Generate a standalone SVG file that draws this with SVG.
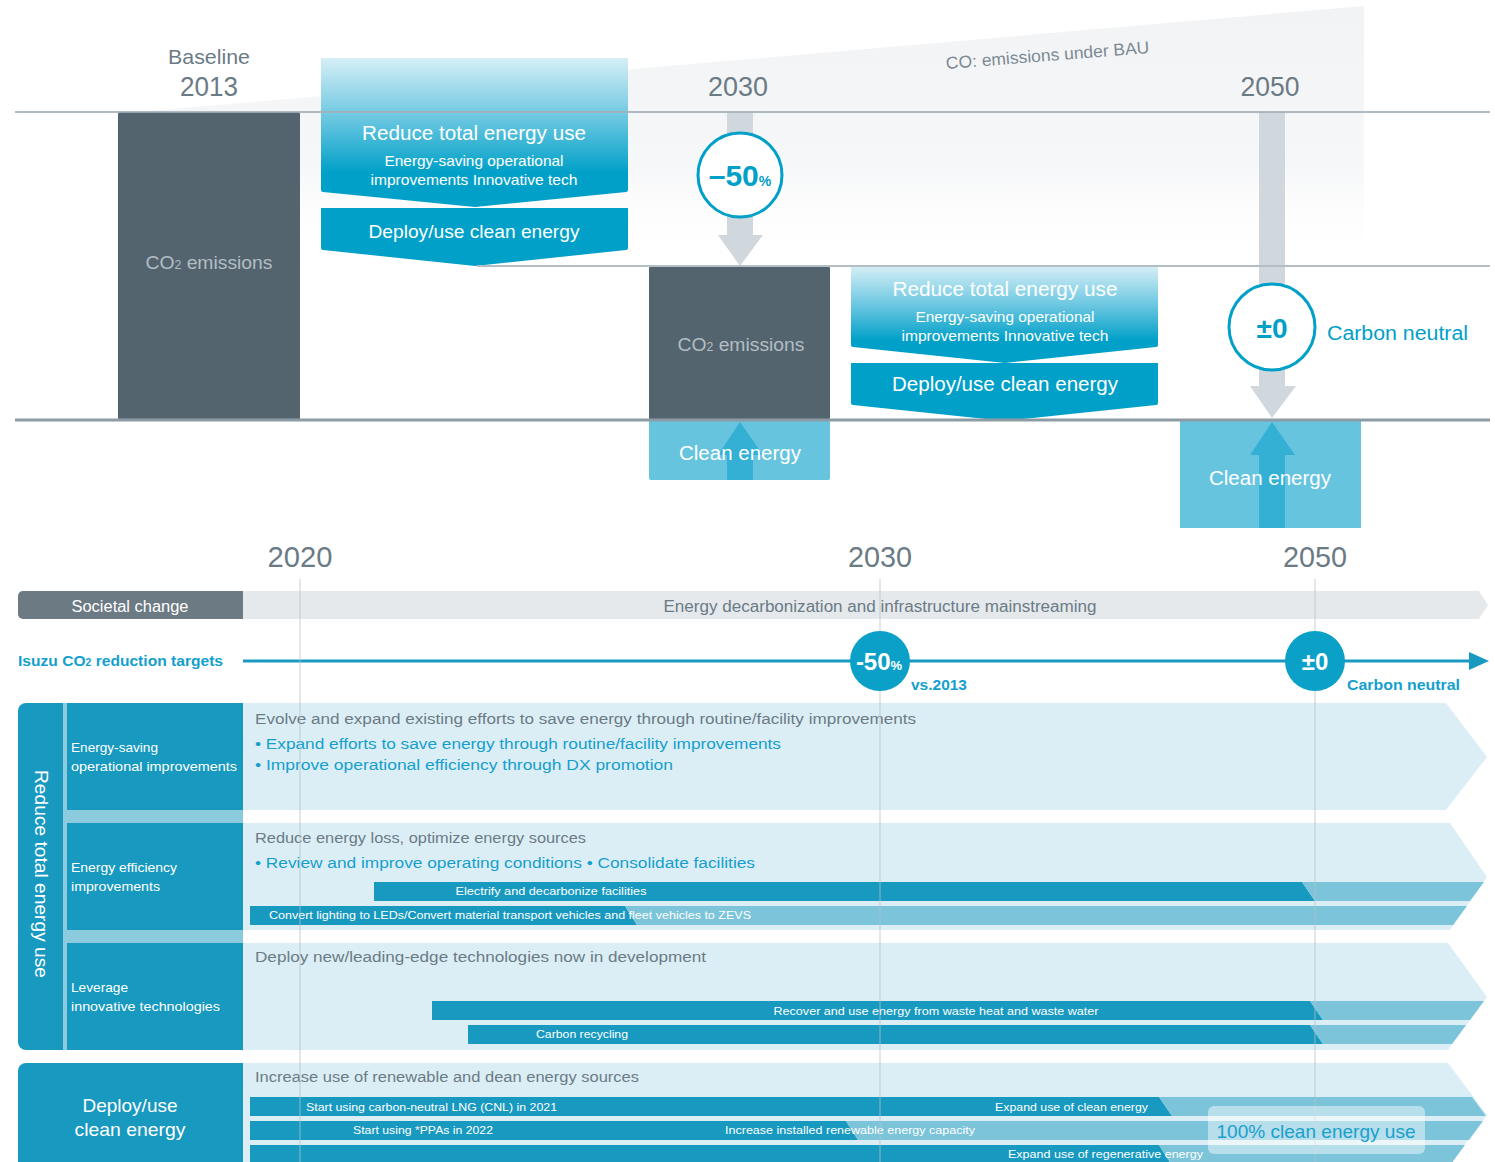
<svg xmlns="http://www.w3.org/2000/svg" width="1495" height="1162" viewBox="0 0 1495 1162">
<defs>
<style>
text{font-family:"Liberation Sans",Arial,sans-serif;}
.w{fill:#ffffff;}
.g{fill:#6b7b86;}
.b{fill:#149fce;}
.lg{fill:#b3bdc4;}
.dark{fill:#53646e;}
.blue{fill:#00a0c8;}
.head{fill:#1899c0;}
.sep{fill:#8ccadd;}
.band{fill:#dceef5;}
.bar{fill:#1899c0;}
.barl{fill:#7bc4da;}
.cyan{fill:#67c4df;}
.cyanarr{fill:#35b0d5;}
.grayarr{fill:#d0d7dd;}
.vline{stroke:#b5c1c9;stroke-width:1;opacity:0.75;}
</style>
<linearGradient id="bau" x1="0" y1="6" x2="0" y2="270" gradientUnits="userSpaceOnUse">
<stop offset="0" stop-color="#f1f3f5" stop-opacity="1"/>
<stop offset="0.6" stop-color="#f4f5f7" stop-opacity="0.8"/>
<stop offset="1" stop-color="#ffffff" stop-opacity="0"/>
</linearGradient>
<linearGradient id="blk1" x1="0" y1="58" x2="0" y2="207" gradientUnits="userSpaceOnUse">
<stop offset="0" stop-color="#d6eff6"/>
<stop offset="0.4" stop-color="#6cc7e1"/>
<stop offset="0.77" stop-color="#00a0c8"/>
<stop offset="1" stop-color="#00a0c8"/>
</linearGradient>
<linearGradient id="blk2" x1="0" y1="266" x2="0" y2="363" gradientUnits="userSpaceOnUse">
<stop offset="0" stop-color="#d6eff6"/>
<stop offset="0.4" stop-color="#6cc7e1"/>
<stop offset="0.77" stop-color="#00a0c8"/>
<stop offset="1" stop-color="#00a0c8"/>
</linearGradient>
</defs>

<!-- BAU wedge -->
<g id="bau-area">
<polygon points="137,112 1364,6 1364,270 137,270" fill="url(#bau)"/>
<text x="1048" y="61" transform="rotate(-4.5 1048 61)" text-anchor="middle" font-size="17" fill="#7d8a94" textLength="204" lengthAdjust="spacingAndGlyphs">CO: emissions under BAU</text>
</g>

<!-- top year labels -->
<g id="top-years">
<text x="209" y="64" text-anchor="middle" font-size="21" class="g" textLength="82" lengthAdjust="spacingAndGlyphs">Baseline</text>
<text x="209" y="96" text-anchor="middle" font-size="27" class="g" textLength="58" lengthAdjust="spacingAndGlyphs">2013</text>
<text x="738" y="96" text-anchor="middle" font-size="27" class="g" textLength="60" lengthAdjust="spacingAndGlyphs">2030</text>
<text x="1270" y="96" text-anchor="middle" font-size="27" class="g" textLength="59" lengthAdjust="spacingAndGlyphs">2050</text>
</g>

<!-- baseline CO2 bar -->
<g id="co2-2013">
<rect x="118" y="112" width="182" height="308" rx="2" class="dark"/>
<text x="209" y="269" text-anchor="middle" font-size="19" class="lg" textLength="127" lengthAdjust="spacingAndGlyphs">CO<tspan font-size="12">2</tspan> emissions</text>
</g>

<!-- first action blocks -->
<g id="reduce-1">
<path d="M321,58 H628 V190 Q628,192 626,192 L475,207 L323,192 Q321,192 321,190 Z" fill="url(#blk1)"/>
<text x="474" y="140" text-anchor="middle" font-size="20" class="w" textLength="224" lengthAdjust="spacingAndGlyphs">Reduce total energy use</text>
<text x="474" y="166" text-anchor="middle" font-size="15" class="w" textLength="179" lengthAdjust="spacingAndGlyphs">Energy-saving operational</text>
<text x="474" y="185" text-anchor="middle" font-size="15" class="w" textLength="207" lengthAdjust="spacingAndGlyphs">improvements Innovative tech</text>
</g>
<g id="deploy-1">
<path d="M321,208 H628 V248 Q628,250 626,250 L475,266 L323,250 Q321,250 321,248 Z" class="blue"/>
<text x="474" y="238" text-anchor="middle" font-size="19" class="w" textLength="211" lengthAdjust="spacingAndGlyphs">Deploy/use clean energy</text>
</g>

<!-- 2030 CO2 bar -->
<g id="co2-2030">
<rect x="649" y="266" width="181" height="154" rx="2" class="dark"/>
<text x="741" y="351" text-anchor="middle" font-size="19" class="lg" textLength="127" lengthAdjust="spacingAndGlyphs">CO<tspan font-size="12">2</tspan> emissions</text>
</g>
<g id="clean-2030">
<rect x="649" y="420" width="181" height="60" rx="2" class="cyan"/>
<polygon points="727,480 727,455 718,455 740,422 763,455 753,455 753,480" class="cyanarr"/>
<text x="740" y="460" text-anchor="middle" font-size="20" class="w" textLength="122" lengthAdjust="spacingAndGlyphs">Clean energy</text>
</g>

<!-- second action blocks -->
<g id="reduce-2">
<path d="M851,266 H1158 V345 Q1158,347 1156,347 L1005,363 L853,347 Q851,347 851,345 Z" fill="url(#blk2)"/>
<text x="1005" y="296" text-anchor="middle" font-size="20" class="w" textLength="225" lengthAdjust="spacingAndGlyphs">Reduce total energy use</text>
<text x="1005" y="322" text-anchor="middle" font-size="15" class="w" textLength="179" lengthAdjust="spacingAndGlyphs">Energy-saving operational</text>
<text x="1005" y="341" text-anchor="middle" font-size="15" class="w" textLength="207" lengthAdjust="spacingAndGlyphs">improvements Innovative tech</text>
</g>
<g id="deploy-2">
<path d="M851,363 H1158 V403 Q1158,405 1156,405 L1005,421 L853,405 Q851,405 851,403 Z" class="blue"/>
<text x="1005" y="391" text-anchor="middle" font-size="20" class="w" textLength="226" lengthAdjust="spacingAndGlyphs">Deploy/use clean energy</text>
</g>

<!-- 2050 clean energy -->
<g id="clean-2050">
<rect x="1180" y="420" width="181" height="108" class="cyan"/>
<polygon points="1259,528 1259,455 1250,455 1272,422 1295,455 1285,455 1285,528" class="cyanarr"/>
<text x="1270" y="485" text-anchor="middle" font-size="20" class="w" textLength="122" lengthAdjust="spacingAndGlyphs">Clean energy</text>
</g>

<!-- top connectors -->
<g id="connectors-top">
<polygon points="727,112 753,112 753,235 763,235 740,266 718,235 727,235" class="grayarr"/>
<polygon points="1259,112 1285,112 1285,386 1296,386 1272,418 1250,386 1259,386" class="grayarr"/>
<line x1="15" y1="112" x2="1490" y2="112" stroke="#a4afb7" stroke-width="2" opacity="0.85"/>
<line x1="477" y1="266" x2="1490" y2="266" stroke="#b4bec5" stroke-width="2"/>
<line x1="15" y1="420" x2="1490" y2="420" stroke="#8d9ba4" stroke-width="3"/>
</g>

<g id="target-50">
<circle cx="740" cy="175" r="42" fill="#ffffff" stroke="#00a0c8" stroke-width="3"/>
<text x="740" y="186" text-anchor="middle" font-weight="bold" fill="#00a0c8"><tspan font-size="30">–50</tspan><tspan font-size="14">%</tspan></text>
</g>
<g id="target-0">
<circle cx="1272" cy="327" r="43" fill="#ffffff" stroke="#00a0c8" stroke-width="3"/>
<text x="1272" y="338" text-anchor="middle" font-size="28" font-weight="bold" fill="#00a0c8">±0</text>
<text x="1327" y="340" font-size="20" fill="#00a0c8" textLength="141" lengthAdjust="spacingAndGlyphs">Carbon neutral</text>
</g>

<!-- bottom years -->
<g id="bottom-years">
<text x="300" y="567" text-anchor="middle" font-size="30" class="g" textLength="65" lengthAdjust="spacingAndGlyphs">2020</text>
<text x="880" y="567" text-anchor="middle" font-size="30" class="g" textLength="64" lengthAdjust="spacingAndGlyphs">2030</text>
<text x="1315" y="567" text-anchor="middle" font-size="30" class="g" textLength="64" lengthAdjust="spacingAndGlyphs">2050</text>
</g>

<!-- societal change -->
<g id="societal">
<rect x="18" y="591" width="225" height="28" rx="5" fill="#6c7a84"/>
<rect x="220" y="591" width="23" height="28" fill="#6c7a84"/>
<polygon points="243,591 1479,591 1488,605 1479,619 243,619" fill="#e5e9ec"/>
<text x="130" y="612" text-anchor="middle" font-size="16" class="w" textLength="117" lengthAdjust="spacingAndGlyphs">Societal change</text>
<text x="880" y="612" text-anchor="middle" font-size="16" class="g" textLength="433" lengthAdjust="spacingAndGlyphs">Energy decarbonization and infrastructure mainstreaming</text>
</g>

<!-- targets line -->
<g id="targets">
<text x="18" y="666" font-size="15" font-weight="bold" class="b" textLength="205" lengthAdjust="spacingAndGlyphs">Isuzu CO<tspan font-size="10">2</tspan> reduction targets</text>
</g>
<g id="connectors-timeline">
<line x1="243" y1="661" x2="1472" y2="661" stroke="#1899c0" stroke-width="3"/>
<polygon points="1469,652 1489,661 1469,670" fill="#1899c0"/>
</g>
<g id="target-bottom-50">
<circle cx="880" cy="661" r="30" fill="#0aa0c8"/>
<text x="879" y="670" text-anchor="middle" font-weight="bold" class="w"><tspan font-size="24">-50</tspan><tspan font-size="13">%</tspan></text>
<text x="911" y="690" font-size="15" font-weight="bold" class="b" textLength="56" lengthAdjust="spacingAndGlyphs">vs.2013</text>
</g>
<g id="target-bottom-0">
<circle cx="1315" cy="661" r="30" fill="#0aa0c8"/>
<text x="1315" y="670" text-anchor="middle" font-size="24" font-weight="bold" class="w">±0</text>
<text x="1347" y="690" font-size="15" font-weight="bold" class="b" textLength="113" lengthAdjust="spacingAndGlyphs">Carbon neutral</text>
</g>

<!-- left heads -->
<g id="reduce-total-head">
<rect x="18" y="703" width="60" height="347" rx="8" class="head"/>
<rect x="63" y="703" width="4" height="347" class="sep"/>
<rect x="63" y="810" width="180" height="13" class="sep"/>
<rect x="63" y="930" width="180" height="13" class="sep"/>
<text transform="translate(35,874) rotate(90)" text-anchor="middle" font-size="18" class="w" textLength="208" lengthAdjust="spacingAndGlyphs">Reduce total energy use</text>
</g>

<!-- row 1 -->
<g id="row-energy-saving">
<rect x="67" y="703" width="176" height="107" class="head"/>
<text x="71" y="752" font-size="13.5" class="w" textLength="87" lengthAdjust="spacingAndGlyphs">Energy-saving</text>
<text x="71" y="771" font-size="13.5" class="w" textLength="166" lengthAdjust="spacingAndGlyphs">operational improvements</text>
<polygon points="243,703 1446,703 1487,757 1446,810 243,810" class="band"/>
<text x="255" y="724" font-size="15.5" class="g" textLength="661" lengthAdjust="spacingAndGlyphs">Evolve and expand existing efforts to save energy through routine/facility improvements</text>
<text x="255" y="749" font-size="15.5" class="b" textLength="526" lengthAdjust="spacingAndGlyphs">• Expand efforts to save energy through routine/facility improvements</text>
<text x="255" y="770" font-size="15.5" class="b" textLength="418" lengthAdjust="spacingAndGlyphs">• Improve operational efficiency through DX promotion</text>
</g>

<!-- row 2 -->
<g id="row-efficiency">
<rect x="67" y="823" width="176" height="107" class="head"/>
<text x="71" y="872" font-size="13.5" class="w" textLength="106" lengthAdjust="spacingAndGlyphs">Energy efficiency</text>
<text x="71" y="891" font-size="13.5" class="w" textLength="89" lengthAdjust="spacingAndGlyphs">improvements</text>
<polygon points="243,823 1450,823 1487,877 1450,930 243,930" class="band"/>
<text x="255" y="843" font-size="15.5" class="g" textLength="331" lengthAdjust="spacingAndGlyphs">Reduce energy loss, optimize energy sources</text>
<text x="255" y="868" font-size="15.5" class="b" textLength="500" lengthAdjust="spacingAndGlyphs">• Review and improve operating conditions  • Consolidate facilities</text>
<polygon points="374,882 1302,882 1315,901 374,901" class="bar"/>
<polygon points="1302,882 1484,882 1470,901 1315,901" class="barl"/>
<text x="551" y="895" text-anchor="middle" font-size="11.5" class="w" textLength="191" lengthAdjust="spacingAndGlyphs">Electrify and decarbonize facilities</text>
<polygon points="250,906 625,906 637,925 250,925" class="bar"/>
<polygon points="625,906 1467,906 1453,925 637,925" class="barl"/>
<text x="269" y="919" font-size="11.5" class="w" textLength="482" lengthAdjust="spacingAndGlyphs">Convert lighting to LEDs/Convert material transport vehicles and fleet vehicles to ZEVS</text>
</g>

<!-- row 3 -->
<g id="row-innovative">
<rect x="67" y="943" width="176" height="107" class="head"/>
<text x="71" y="992" font-size="13.5" class="w" textLength="57" lengthAdjust="spacingAndGlyphs">Leverage</text>
<text x="71" y="1011" font-size="13.5" class="w" textLength="149" lengthAdjust="spacingAndGlyphs">innovative technologies</text>
<polygon points="243,943 1448,943 1487,997 1448,1050 243,1050" class="band"/>
<text x="255" y="962" font-size="15.5" class="g" textLength="451" lengthAdjust="spacingAndGlyphs">Deploy new/leading-edge technologies now in development</text>
<polygon points="432,1001 1310,1001 1323,1020 432,1020" class="bar"/>
<polygon points="1310,1001 1484,1001 1470,1020 1323,1020" class="barl"/>
<text x="936" y="1015" text-anchor="middle" font-size="11.5" class="w" textLength="325" lengthAdjust="spacingAndGlyphs">Recover and use energy from waste heat and waste water</text>
<polygon points="468,1025 1310,1025 1323,1044 468,1044" class="bar"/>
<polygon points="1310,1025 1466,1025 1452,1044 1323,1044" class="barl"/>
<text x="582" y="1038" text-anchor="middle" font-size="11.5" class="w" textLength="92" lengthAdjust="spacingAndGlyphs">Carbon recycling</text>
</g>

<!-- row 4 -->
<g id="row-deploy">
<rect x="18" y="1063" width="225" height="120" rx="8" class="head"/>
<rect x="200" y="1063" width="43" height="120" class="head"/>
<text x="130" y="1112" text-anchor="middle" font-size="19" class="w" textLength="95" lengthAdjust="spacingAndGlyphs">Deploy/use</text>
<text x="130" y="1136" text-anchor="middle" font-size="19" class="w" textLength="111" lengthAdjust="spacingAndGlyphs">clean energy</text>
<polygon points="243,1063 1448,1063 1487,1115 1448,1167 243,1167" class="band"/>
<text x="255" y="1082" font-size="15.5" class="g" textLength="384" lengthAdjust="spacingAndGlyphs">Increase use of renewable and dean energy sources</text>
<polygon points="250,1097 1159,1097 1172,1116 250,1116" class="bar"/>
<polygon points="1159,1097 1472,1097 1486,1116 1172,1116" class="barl"/>
<text x="306" y="1111" font-size="11.5" class="w" textLength="251" lengthAdjust="spacingAndGlyphs">Start using carbon-neutral LNG (CNL) in 2021</text>
<text x="1148" y="1111" text-anchor="end" font-size="11.5" class="w" textLength="153" lengthAdjust="spacingAndGlyphs">Expand use of clean energy</text>
<polygon points="250,1121 846,1121 858,1140 250,1140" class="bar"/>
<polygon points="846,1121 1483,1121 1469,1140 858,1140" class="barl"/>
<text x="353" y="1134" font-size="11.5" class="w" textLength="140" lengthAdjust="spacingAndGlyphs">Start using *PPAs in 2022</text>
<text x="725" y="1134" font-size="11.5" class="w" textLength="250" lengthAdjust="spacingAndGlyphs">Increase installed renewable energy capacity</text>
<polygon points="250,1145 1159,1145 1171,1164 250,1164" class="bar"/>
<polygon points="1159,1145 1465,1145 1451,1164 1171,1164" class="barl"/>
<text x="1203" y="1158" text-anchor="end" font-size="11.5" class="w" textLength="195" lengthAdjust="spacingAndGlyphs">Expand use of regenerative energy</text>
</g>

<!-- year gridlines -->
<g id="gridlines">
<line x1="300" y1="579" x2="300" y2="1162" class="vline"/>
<line x1="880" y1="579" x2="880" y2="631" class="vline"/>
<line x1="880" y1="691" x2="880" y2="1162" class="vline"/>
<line x1="1315" y1="579" x2="1315" y2="631" class="vline"/>
<line x1="1315" y1="691" x2="1315" y2="1162" class="vline"/>
</g>

<g id="clean-100">
<rect x="1208" y="1106" width="217" height="48" rx="6" fill="#ffffff" opacity="0.45"/>
<text x="1316" y="1138" text-anchor="middle" font-size="19" fill="#1aa0cc" textLength="199" lengthAdjust="spacingAndGlyphs">100% clean energy use</text>
</g>
</svg>
